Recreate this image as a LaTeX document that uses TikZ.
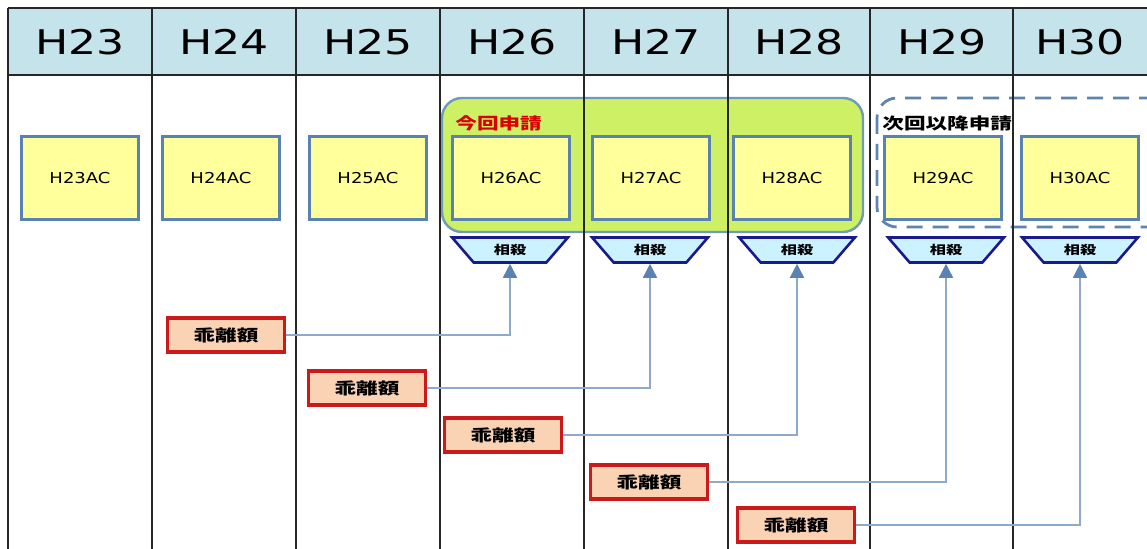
\documentclass[tikz,border=0pt]{standalone}
\usepackage{fontspec}
\usetikzlibrary{shapes.geometric,arrows.meta}
\newfontfamily\hdrfont[FakeStretch=1.3]{DejaVu Sans}
\newfontfamily\acfont[FakeStretch=1.2]{DejaVu Sans}
\newfontfamily\jpfont[FakeStretch=1.35]{Noto Sans CJK JP}
\definecolor{hdrfill}{HTML}{C5E3EA}
\definecolor{acfill}{HTML}{FFFF9C}
\definecolor{acline}{HTML}{5A82B0}
\definecolor{grn}{HTML}{CDF064}
\definecolor{grnline}{HTML}{6F9BB8}
\definecolor{trfill}{HTML}{CCF2FF}
\definecolor{trline}{HTML}{1A1A8C}
\definecolor{kfill}{HTML}{FAD2B4}
\definecolor{kline}{HTML}{CC1A1A}
\definecolor{conn}{HTML}{8DA9CB}
\definecolor{tip}{HTML}{5A82B5}
\definecolor{dash}{HTML}{5F84AD}
\tikzset{
  hdr/.style={font=\hdrfont\fontsize{17pt}{20pt}\selectfont, text=black},
  acbox/.style={draw=acline, line width=1.3pt, fill=acfill, minimum width=58.5pt, minimum height=41.5pt, inner sep=0pt, font=\acfont\fontsize{7.5pt}{9pt}\selectfont},
  trbox/.style={trapezium, shape border rotate=180, trapezium angle=50, trapezium stretches=true, draw=trline, line width=1.3pt, fill=trfill, minimum width=58pt, minimum height=12.5pt, inner sep=0pt, font=\jpfont\bfseries\fontsize{6pt}{7pt}\selectfont},
  kbox/.style={draw=kline, line width=1.6pt, fill=kfill, minimum width=58.5pt, minimum height=17pt, inner sep=0pt, font=\jpfont\bfseries\fontsize{8pt}{9pt}\selectfont},
  conline/.style={draw=conn, line width=0.8pt, -{Triangle[width=7pt,length=7pt,fill=tip,color=tip]}},
  grid/.style={line width=1pt, draw=black!85},
  lbl/.style={anchor=west, inner sep=0pt, font=\jpfont\bfseries\fontsize{8pt}{9pt}\selectfont}
}
\begin{document}
\begin{tikzpicture}[x=0.5pt,y=-0.5pt]
\useasboundingbox (0,0) rectangle (1147,549);
\clip (0,0) rectangle (1147,549);
\fill[white] (0,0) rectangle (1147,549);
% header
\fill[hdrfill] (8,8) rectangle (1160,75);
% highlight regions
\draw[fill=grn, draw=grnline, line width=1.2pt, rounded corners=10pt] (442,98) rectangle (863,232);
\draw[draw=dash, line width=1.4pt, dash pattern=on 8pt off 5pt, rounded corners=10pt] (877,98) rectangle (1170,227);
% grid
\foreach \x in {8,152,296,440,584,728,870,1013} \draw[grid] (\x,8) -- (\x,560);
\draw[grid] (8,8) -- (1160,8);
\draw[grid] (8,75) -- (1160,75);
% header labels
\node[hdr] (h23) at (80,42) {H23};
\node[hdr] (h24) at (224,42) {H24};
\node[hdr] (h25) at (368,42) {H25};
\node[hdr] (h26) at (512,42) {H26};
\node[hdr] (h27) at (656,42) {H27};
\node[hdr] (h28) at (799,42) {H28};
\node[hdr] (h29) at (942,42) {H29};
\node[hdr] (h30) at (1080,42) {H30};
% region labels
\node[lbl, text=red!85!black] (konkai) at (455,123) {今回申請};
\node[lbl, text=black] (jikai) at (882,123) {次回以降申請};
% AC boxes
\node[acbox] (ac23) at (80,178) {H23AC};
\node[acbox] (ac24) at (221,178) {H24AC};
\node[acbox] (ac25) at (368,178) {H25AC};
\node[acbox] (ac26) at (511,178) {H26AC};
\node[acbox] (ac27) at (651,178) {H27AC};
\node[acbox] (ac28) at (792,178) {H28AC};
\node[acbox] (ac29) at (943,178) {H29AC};
\node[acbox] (ac30) at (1080,178) {H30AC};
% offset trapezia
\node[trbox] (s26) at (510,250) {相殺};
\node[trbox] (s27) at (650,250) {相殺};
\node[trbox] (s28) at (797,250) {相殺};
\node[trbox] (s29) at (946,250) {相殺};
\node[trbox] (s30) at (1080,250) {相殺};
% deviation boxes
\node[kbox] (k1) at (226,335) {乖離額};
\node[kbox] (k2) at (367,388) {乖離額};
\node[kbox] (k3) at (503,435) {乖離額};
\node[kbox] (k4) at (649,482) {乖離額};
\node[kbox] (k5) at (796,525) {乖離額};
% connectors
\draw[conline] (k1.east) -| (s26.south);
\draw[conline] (k2.east) -| (s27.south);
\draw[conline] (k3.east) -| (s28.south);
\draw[conline] (k4.east) -| (s29.south);
\draw[conline] (k5.east) -| (s30.south);
\end{tikzpicture}
\end{document}
